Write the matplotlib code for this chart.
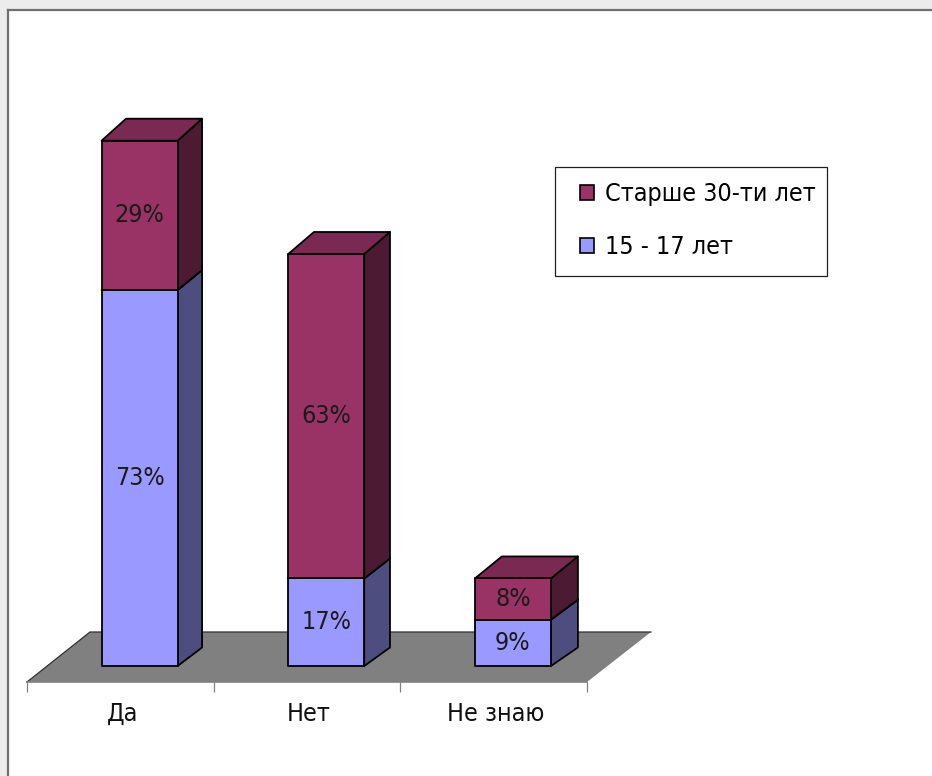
import matplotlib
matplotlib.use("Agg")
import matplotlib.pyplot as plt
from matplotlib.font_manager import FontProperties
from matplotlib.patches import Polygon, Patch, Rectangle
from matplotlib.lines import Line2D

categories = ["Да", "Нет", "Не знаю"]
young = [73, 17, 9]
older = [29, 63, 8]
young_name = "15 - 17 лет"
older_name = "Старше 30-ти лет"

W, H = 932, 776
PX_X = 186.67   # pixels per category
PX_Y = 5.15     # pixels per percent
FRONT = 0.103   # bar offset from category centre (depth effect)
BAR_W = 76 / PX_X

font = FontProperties(family="DejaVu Sans", stretch="condensed", size=18)

fig = plt.figure(figsize=(W / 100, H / 100), dpi=100, facecolor="#ececec")

# slide panel: white area with a grey line on the top and left only
L, T = 8, 10
fig.add_artist(Rectangle((L / W, 0), 1 - L / W, 1 - T / H, transform=fig.transFigure,
                         facecolor="white", edgecolor="none", zorder=-5))
fig.add_artist(Line2D([L / W, L / W], [0, 1 - T / H], color="#707070", lw=1.6, zorder=-4))
fig.add_artist(Line2D([L / W, 1], [1 - T / H, 1 - T / H], color="#707070", lw=1.6, zorder=-4))

ax = fig.add_axes([27 / W, (H - 682) / H, 560 / W, 672 / H])
ax.patch.set_visible(False)
y0 = -16 / PX_Y
ax.set_xlim(-0.5, 2.5)
ax.set_ylim(y0, y0 + 672 / PX_Y)
for s in ("left", "right", "top"):
    ax.spines[s].set_visible(False)
ax.spines["bottom"].set_color("#808080")
ax.spines["bottom"].set_linewidth(1.2)
ax.set_yticks([])
ax.set_xticks([i + 0.01 for i in range(len(categories))])
ax.set_xticklabels(categories, fontproperties=font, color="#111111")
ax.tick_params(axis="x", which="major", length=0, pad=14.5)
ax.set_xticks([-0.5, 0.5, 1.5, 2.5], minor=True)
ax.tick_params(axis="x", which="minor", length=7.5, width=0.9, color="#808080")


def dxp(px):
    return px / PX_X


def dyp(px):
    return px / PX_Y


# floor
fx0, fx1 = -0.5, 2.5
fy1 = y0 + dyp(50)
ax.add_patch(Polygon([(fx0, y0), (fx1, y0), (fx1 + dxp(64), fy1), (fx0 + dxp(63), fy1)],
                     closed=True, facecolor="#808080", edgecolor="none", clip_on=False, zorder=1))
ax.plot([fx0, fx0 + dxp(63), fx1 + dxp(64)], [y0, fy1, fy1], color="#303030", lw=0.9,
        clip_on=False, zorder=1.5)


def box(x, b, t, dx, dyb, dyt, front, top, side, label, z):
    xl, xr = x - BAR_W / 2, x + BAR_W / 2
    kw = dict(closed=True, edgecolor="black", lw=1.3, clip_on=False, joinstyle="round", zorder=z)
    ax.add_patch(Polygon([(xr, b), (xr + dxp(dx), b + dyp(dyb)), (xr + dxp(dx), t + dyp(dyt)), (xr, t)],
                         facecolor=side, **kw))
    ax.add_patch(Polygon([(xl, t), (xr, t), (xr + dxp(dx), t + dyp(dyt)), (xl + dxp(dx), t + dyp(dyt))],
                         facecolor=top, **kw))
    ax.add_patch(Polygon([(xl, b), (xr, b), (xr, t), (xl, t)], facecolor=front, **kw))
    ax.text(x, (b + t) / 2, label, ha="center", va="center", fontproperties=font,
            color="#1a1a1a", zorder=z + 1)


for i, (a, c) in enumerate(zip(young, older)):
    x = i + FRONT
    dx = 24.5 + 1.25 * i
    box(x, 0, a, dx, 18.5, 20, "#9999FF", "#7A7ACC", "#4D4D80", f"{a}%", 3)
    box(x, a, a + c, dx, 20, 22, "#993366", "#7A2952", "#4C1A33", f"{c}%", 4)

# legend frame (wider left padding than a matplotlib legend allows), then entries
fig.add_artist(Rectangle((555 / W, (H - 276) / H), 272 / W, 109 / H, transform=fig.transFigure,
                         facecolor="white", edgecolor="#202020", lw=0.9, zorder=5))
handles = [Patch(facecolor="#993366", edgecolor="black", lw=1.2, label=older_name),
           Patch(facecolor="#9999FF", edgecolor="black", lw=1.2, label=young_name)]
leg = fig.legend(handles=handles, loc="upper left",
                 bbox_to_anchor=(580 / W, (H - 182) / H), bbox_transform=fig.transFigure,
                 prop=font, frameon=False, borderaxespad=0, borderpad=0,
                 handlelength=0.56, handleheight=0.56, handletextpad=0.44, labelspacing=1.16)
leg.set_zorder(6)

fig.savefig("out.png", dpi=100, facecolor=fig.get_facecolor())
